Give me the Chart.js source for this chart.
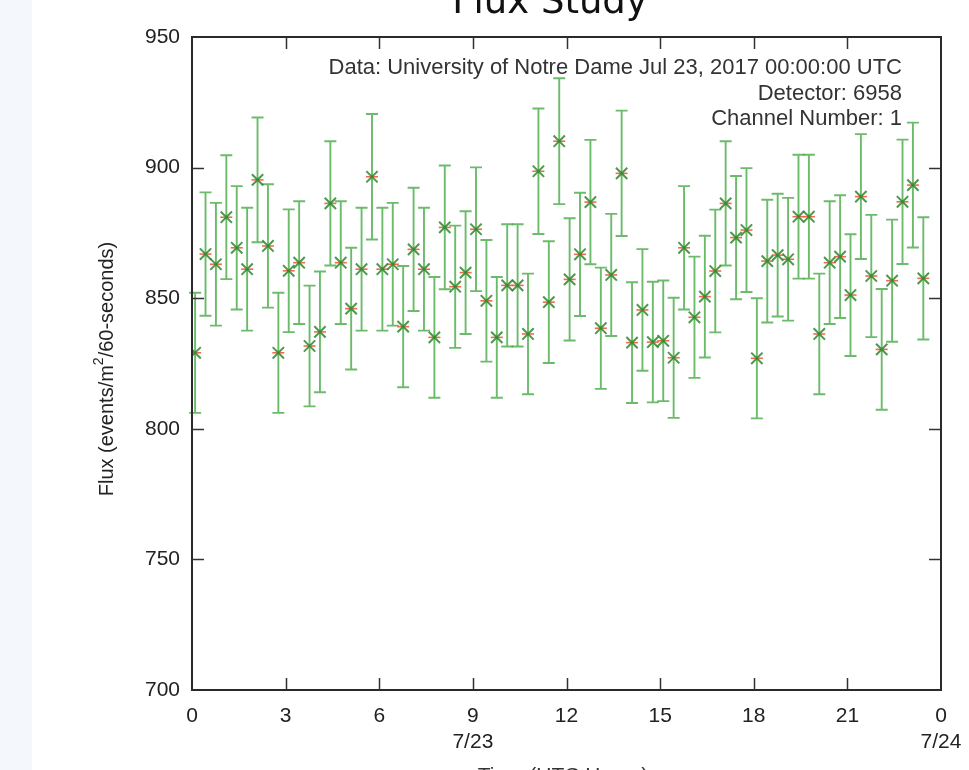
<!DOCTYPE html>
<html><head><meta charset="utf-8">
<script src="https://cdn.jsdelivr.net/npm/chart.js@4/dist/chart.umd.min.js"></script>
<style>html,body{margin:0;padding:0;background:#fff;}canvas{display:block;}</style>
</head><body>
<canvas id="c" width="969" height="770"></canvas>
<script>
// Bin times (minutes after 00:00 UTC, Jul 23, 2017)
const timeMinutes = [6,26,46,66,86,106,126,146,166,186,206,226,246,266,286,306,326,346,366,386,406,426,446,466,486,506,526,546,566,586,606,626,646,666,686,706,726,746,766,786,806,826,846,866,886,906,926,946,966,986,1006,1026,1046,1066,1086,1106,1126,1146,1166,1186,1206,1226,1246,1266,1286,1306,1326,1346,1366,1386,1406];
const fluxValues = [829.1,866.9,863.0,881.0,869.3,861.1,895.3,870.0,829.1,860.5,863.6,831.7,837.1,886.3,863.6,846.0,861.1,896.5,861.1,863.0,839.1,868.7,861.1,835.0,877.1,854.4,859.8,876.4,849.0,835.0,854.9,854.9,836.3,898.6,848.5,910.1,857.2,866.8,886.8,838.5,858.9,897.8,833.0,845.5,833.2,833.7,827.2,869.3,842.7,850.6,860.4,886.3,873.2,876.1,827.0,864.2,866.5,864.9,881.2,881.2,836.3,863.6,865.9,851.2,888.9,858.5,830.4,856.7,886.9,893.3,857.6];
const fluxErrors = [23.0,23.6,23.5,23.7,23.6,23.5,23.9,23.6,23.0,23.5,23.5,23.1,23.1,23.8,23.5,23.3,23.5,24.0,23.5,23.5,23.2,23.6,23.5,23.1,23.7,23.4,23.5,23.7,23.3,23.1,23.4,23.4,23.1,24.0,23.3,24.1,23.4,23.6,23.8,23.2,23.4,24.0,23.1,23.3,23.1,23.1,23.0,23.6,23.2,23.3,23.5,23.8,23.6,23.7,23.0,23.5,23.5,23.5,23.7,23.7,23.1,23.5,23.5,23.3,23.9,23.4,23.1,23.4,23.8,23.9,23.4];
const xTickLabels = ['0','3','6',['9','7/23'],'12','15','18','21',['0','7/24']];
const yTickValues = [700,750,800,850,900,950];
const titleText = 'Flux Study';
const annotationLines = ['Data: University of Notre Dame Jul 23, 2017 00:00:00 UTC','Detector: 6958','Channel Number: 1'];
const yTitleParts = ['Flux (events/m','2','/60-seconds)'];
const xTitleText = 'Time (UTC Hours)';

const points = timeMinutes.map((m,i)=>({x:m/60, y:fluxValues[i], e:fluxErrors[i]}));
const FONT = '"Liberation Sans", Arial, Helvetica, sans-serif';

const decor = {
  id:'decor',
  beforeDraw(chart){
    const ctx=chart.ctx; ctx.save();
    ctx.fillStyle='#ffffff'; ctx.fillRect(0,0,chart.width,chart.height);
    ctx.fillStyle='#f4f8fd'; ctx.fillRect(0,0,32,chart.height);
    ctx.restore();
  },
  beforeDatasetsDraw(chart){
    const ctx=chart.ctx, xs=chart.scales.x, ys=chart.scales.y;
    ctx.save();
    ctx.strokeStyle='rgba(70,170,70,0.8)'; ctx.lineWidth=1.9;
    points.forEach(p=>{
      const px=xs.getPixelForValue(p.x), t=ys.getPixelForValue(p.y+p.e), b=ys.getPixelForValue(p.y-p.e);
      ctx.beginPath();
      ctx.moveTo(px,t); ctx.lineTo(px,b);
      ctx.moveTo(px-6,t); ctx.lineTo(px+6,t);
      ctx.moveTo(px-6,b); ctx.lineTo(px+6,b);
      ctx.stroke();
    });
    ctx.restore();
  },
  afterDraw(chart){
    const ctx=chart.ctx, a=chart.chartArea, xs=chart.scales.x, ys=chart.scales.y;
    ctx.save();
    // inside ticks
    ctx.strokeStyle='#333'; ctx.lineWidth=1.5;
    ctx.beginPath();
    xs.ticks.forEach(t=>{
      if(t.value<=xs.min||t.value>=xs.max) return;
      const px=Math.round(xs.getPixelForValue(t.value))+0.5;
      ctx.moveTo(px,a.bottom); ctx.lineTo(px,a.bottom-12);
      ctx.moveTo(px,a.top); ctx.lineTo(px,a.top+12);
    });
    yTickValues.forEach(v=>{
      if(v<=ys.min||v>=ys.max) return;
      const py=Math.round(ys.getPixelForValue(v))+0.5;
      ctx.moveTo(a.left,py); ctx.lineTo(a.left+12,py);
      ctx.moveTo(a.right,py); ctx.lineTo(a.right-12,py);
    });
    ctx.stroke();
    // frame
    ctx.strokeStyle='#2a2a2a'; ctx.lineWidth=2;
    ctx.strokeRect(a.left,a.top,a.right-a.left,a.bottom-a.top);
    // annotation
    ctx.fillStyle='#333'; ctx.font='22px '+FONT; ctx.textAlign='right'; ctx.textBaseline='middle';
    const ay=[68,94,119];
    annotationLines.forEach((s,i)=>ctx.fillText(s,902,ay[i]));
    // title
    ctx.fillStyle='#111'; ctx.font='37px "DejaVu Sans", sans-serif'; ctx.textAlign='center'; ctx.textBaseline='alphabetic';
    ctx.fillText(titleText,550,13);
    // x title (cut off at bottom)
    ctx.fillStyle='#333'; ctx.font='21px '+FONT; ctx.textBaseline='top';
    ctx.fillText(xTitleText,563,766);
    // y title
    ctx.translate(107,369); ctx.rotate(-Math.PI/2);
    ctx.textAlign='left'; ctx.textBaseline='alphabetic';
    const mainF='20px '+FONT, supF='14px '+FONT;
    ctx.font=mainF; const w1=ctx.measureText(yTitleParts[0]).width, w3=ctx.measureText(yTitleParts[2]).width;
    ctx.font=supF; const w2=ctx.measureText(yTitleParts[1]).width;
    let x0=-(w1+w2+w3)/2;
    ctx.fillStyle='#222';
    ctx.font=mainF; ctx.fillText(yTitleParts[0],x0,6);
    ctx.font=supF; ctx.fillText(yTitleParts[1],x0+w1,-4);
    ctx.font=mainF; ctx.fillText(yTitleParts[2],x0+w1+w2,6);
    ctx.restore();
  }
};

new Chart(document.getElementById('c'),{
  type:'scatter',
  data:{datasets:[
    {label:'flux', data:points, pointStyle:'crossRot', pointRadius:8, pointHoverRadius:8,
     borderColor:'rgba(45,135,45,0.85)', backgroundColor:'rgba(45,135,45,0.85)', pointBorderWidth:2},
    {label:'flux-h', data:points, pointStyle:'line', pointRadius:6, pointHoverRadius:6,
     borderColor:'rgba(240,90,60,0.9)', backgroundColor:'rgba(240,90,60,0.9)', pointBorderWidth:1.6}
  ]},
  options:{
    responsive:false, animation:false, devicePixelRatio:1,
    layout:{padding:{top:37,right:28,left:0,bottom:0}},
    plugins:{legend:{display:false},tooltip:{enabled:false},title:{display:false}},
    scales:{
      x:{type:'linear',min:0,max:24,
        afterFit(s){s.height=80; s.paddingLeft=0; s.paddingRight=0;},
        grid:{display:false,drawTicks:false},border:{display:false},
        ticks:{stepSize:3,padding:13,maxRotation:0,autoSkip:false,color:'#222',
          font:{family:FONT,size:21,lineHeight:1.24},
          callback:(v)=>xTickLabels[Math.round(v/3)]}},
      y:{type:'linear',min:700,max:950,
        afterFit(s){s.width=192; s.paddingTop=0; s.paddingBottom=0;},
        afterBuildTicks(s){s.ticks=yTickValues.map(v=>({value:v}));},
        grid:{display:false,drawTicks:false},border:{display:false},
        ticks:{padding:12,color:'#222',font:{family:FONT,size:21}}}
    }
  },
  plugins:[decor]
});
</script>
</body></html>
